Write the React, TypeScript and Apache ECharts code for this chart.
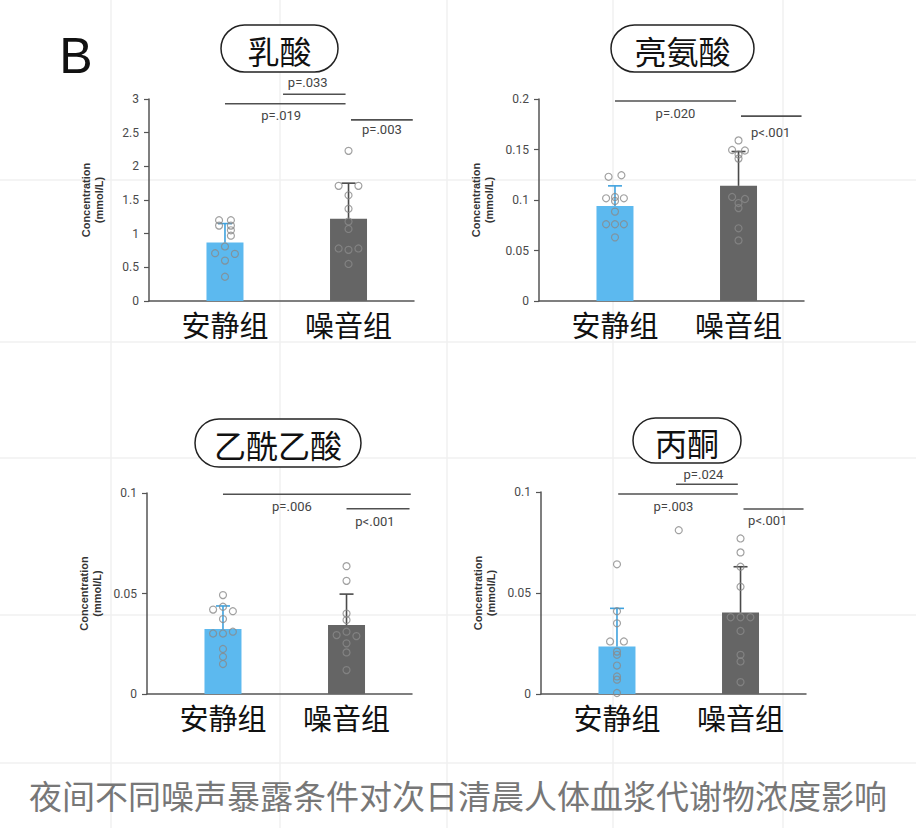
import React, { useEffect, useRef } from "react";
import * as echarts from "echarts";

// ---------- data ----------
const groups = ["安静组", "噪音组"];
const panelTitles = ["乳酸", "亮氨酸", "乙酰乙酸", "丙酮"];
const yName = "Concentration\n(mmol/L)";

const yMax = [3, 0.2, 0.1, 0.1];
const yStep = [0.5, 0.05, 0.05, 0.05];

// bar means [安静组, 噪音组]
const lactateMean = [0.87, 1.22];
const leucineMean = [0.094, 0.114];
const acetoacetateMean = [0.0323, 0.0343];
const acetoneMean = [0.0235, 0.0403];

// SD (upper error bar)
const lactateSd = [0.28, 0.53];
const leucineSd = [0.02, 0.034];
const acetoacetateSd = [0.0115, 0.0154];
const acetoneSd = [0.0189, 0.0227];

// individual points: [jitter column, value]
const lactateQuiet = [[-0.6, 1.2], [0.6, 1.2], [-0.6, 1.12], [0.6, 1.12], [0.6, 1.05], [0.6, 0.97], [0, 0.81], [-1, 0.71], [1, 0.7], [0, 0.6], [0, 0.36]];
const lactateNoise = [[0, 2.23], [-1, 1.71], [1, 1.71], [0, 1.57], [0, 1.37], [0, 1.18], [0, 1.07], [-1, 0.78], [0, 0.76], [1, 0.78], [0, 0.55]];
const leucineQuiet = [[-0.65, 0.123], [0.65, 0.1245], [-0.9, 0.1017], [0, 0.103], [0, 0.099], [0.9, 0.1017], [0, 0.0885], [-0.9, 0.076], [0, 0.076], [0.9, 0.076], [0, 0.063]];
const leucineNoise = [[0, 0.159], [-0.65, 0.1495], [0.65, 0.149], [0, 0.145], [0, 0.141], [-0.65, 0.103], [0.65, 0.101], [0, 0.097], [0, 0.092], [0, 0.072], [0, 0.06]];
const acetoacetateQuiet = [[0, 0.0492], [-1, 0.042], [0, 0.0434], [1, 0.0412], [0, 0.0373], [-1, 0.0301], [0, 0.0301], [1, 0.031], [0, 0.0224], [0, 0.0185], [0, 0.0149]];
const acetoacetateNoise = [[0, 0.0636], [0, 0.0563], [0, 0.04], [0, 0.0368], [-1, 0.0293], [0, 0.031], [1, 0.0288], [0, 0.0252], [0, 0.0207], [0, 0.0119]];
const acetoneQuiet = [[0, 0.0642], [0, 0.041], [0, 0.035], [-0.7, 0.026], [0.7, 0.026], [0, 0.021], [0, 0.0194], [0, 0.0141], [0, 0.0087], [0, 0.0071], [0, 0.0005]];
const acetoneNoise = [[0, 0.077], [0, 0.0701], [0, 0.063], [0, 0.0531], [-1, 0.038], [0, 0.038], [1, 0.038], [0, 0.0312], [0, 0.0194], [0, 0.0161], [0, 0.0059]];
const acetoneStray = [[0.5, 0.0811]];

// significance brackets: [x1, x2, y, labelX, labelY]
const lactateBrackets = [[0.47, 0.976, 3.07, 0.67, 3.24], [0, 0.976, 2.93, 0.455, 2.76], [1.02, 1.52, 2.69, 1.27, 2.55]];
const lactateP = ["p=.033", "p=.019", "p=.003"];
const leucineBrackets = [[0, 0.98, 0.198, 0.49, 0.1855], [1.02, 1.51, 0.183, 1.26, 0.167]];
const leucineP = ["p=.020", "p<.001"];
const acetoacetateBrackets = [[0, 1.52, 0.0994, 0.558, 0.0934], [1.0, 1.51, 0.0922, 1.23, 0.0856]];
const acetoacetateP = ["p=.006", "p<.001"];
const acetoneBrackets = [[0.478, 0.978, 0.1038, 0.7, 0.1087], [0.01, 0.978, 0.099, 0.457, 0.093], [1.024, 1.51, 0.0916, 1.22, 0.086]];
const acetoneP = ["p=.024", "p=.003", "p<.001"];

const caption = "夜间不同噪声暴露条件对次日清晨人体血浆代谢物浓度影响";

// ---------- styling / layout ----------
const BLUE = "#5cb9ef";
const BLUE_ERR = "#3fa2de";
const GRAY = "#656565";
const GRAY_ERR = "#4a4a4a";
const PT = "#8a8a8a";
const AXIS = "#555";
const CJK = "'Noto Sans CJK SC', sans-serif";
const JIT = 0.08;

// faint paper grid in the background
const BG_V = [111, 280, 447, 613, 783];
const BG_H = [180, 342, 458, 615, 763];

const panels = [
  { means: lactateMean, sds: lactateSd, pts: [lactateQuiet, lactateNoise], br: lactateBrackets, p: lactateP, extra: [] as number[][] },
  { means: leucineMean, sds: leucineSd, pts: [leucineQuiet, leucineNoise], br: leucineBrackets, p: leucineP, extra: [] as number[][] },
  { means: acetoacetateMean, sds: acetoacetateSd, pts: [acetoacetateQuiet, acetoacetateNoise], br: acetoacetateBrackets, p: acetoacetateP, extra: [] as number[][] },
  { means: acetoneMean, sds: acetoneSd, pts: [acetoneQuiet, acetoneNoise], br: acetoneBrackets, p: acetoneP, extra: acetoneStray },
];

const gridPos = [
  { left: 149, top: 99, height: 202 },
  { left: 539, top: 99, height: 202 },
  { left: 147, top: 493, height: 201 },
  { left: 541, top: 492, height: 202 },
];
const GRID_W = 265;
const X_MIN = -0.615;
const X_MAX = 1.53;

const titleBoxes = [
  { x: 221, y: 25, w: 117, h: 47 },
  { x: 611, y: 25, w: 143, h: 47 },
  { x: 195, y: 419, w: 166, h: 48 },
  { x: 633, y: 418, w: 108, h: 45 },
];

function buildOption() {
  const grid: any[] = [];
  const xAxis: any[] = [];
  const yAxis: any[] = [];
  const series: any[] = [];

  panels.forEach((pn, i) => {
    const g = gridPos[i];
    grid.push({ left: g.left, top: g.top, width: GRID_W, height: g.height });
    xAxis.push({
      type: "value",
      gridIndex: i,
      min: X_MIN,
      max: X_MAX,
      axisLine: { show: true, onZero: false, lineStyle: { color: AXIS, width: 1.5 } },
      axisTick: { show: false },
      splitLine: { show: false },
      axisLabel: {
        customValues: [0, 1],
        formatter: (v: number) => groups[Math.round(v)] ?? "",
        fontSize: 29,
        color: "#111",
        fontFamily: CJK,
        margin: 8,
      },
    });
    yAxis.push({
      type: "value",
      gridIndex: i,
      min: 0,
      max: yMax[i],
      interval: yStep[i],
      axisLine: { show: true, onZero: false, lineStyle: { color: AXIS, width: 1.5 } },
      axisTick: { show: true, length: 5, lineStyle: { color: AXIS, width: 1.2 } },
      splitLine: { show: false },
      axisLabel: { fontSize: 12, color: "#4a4a4a", fontFamily: "Roboto, sans-serif", margin: 10 },
      name: yName,
      nameLocation: "middle",
      nameGap: 44,
      nameTextStyle: { fontSize: 11, fontWeight: "bold", color: "#333", fontFamily: "'Liberation Sans', Arial, sans-serif", lineHeight: 13 },
    });

    series.push({
      type: "bar",
      xAxisIndex: i,
      yAxisIndex: i,
      barWidth: 37,
      data: pn.means.map((m, k) => ({ value: [k, m], itemStyle: { color: k === 0 ? BLUE : GRAY } })),
    });

    series.push({
      type: "custom",
      xAxisIndex: i,
      yAxisIndex: i,
      z: 3,
      data: pn.means.map((m, k) => [k, m, m + pn.sds[k]]),
      renderItem: (params: any, api: any) => {
        const k = api.value(0);
        const a = api.coord([k, api.value(1)]);
        const b = api.coord([k, api.value(2)]);
        const c = k === 0 ? BLUE_ERR : GRAY_ERR;
        return {
          type: "group",
          children: [
            { type: "line", shape: { x1: a[0], y1: a[1], x2: b[0], y2: b[1] }, style: { stroke: c, lineWidth: 1.6 } },
            { type: "line", shape: { x1: b[0] - 7, y1: b[1], x2: b[0] + 7, y2: b[1] }, style: { stroke: c, lineWidth: 1.6 } },
          ],
        };
      },
    });

    const pts: number[][] = [];
    pn.pts.forEach((arr, k) => arr.forEach((p) => pts.push([k + p[0] * JIT, p[1]])));
    pn.extra.forEach((p) => pts.push([p[0], p[1]]));
    series.push({
      type: "scatter",
      xAxisIndex: i,
      yAxisIndex: i,
      z: 4,
      symbol: "circle",
      symbolSize: 7,
      itemStyle: { color: "rgba(255,255,255,0)", borderColor: PT, borderWidth: 1.2 },
      data: pts,
    });

    series.push({
      type: "custom",
      xAxisIndex: i,
      yAxisIndex: i,
      z: 5,
      clip: false,
      data: pn.br,
      renderItem: (params: any, api: any) => {
        const a = api.coord([api.value(0), api.value(2)]);
        const b = api.coord([api.value(1), api.value(2)]);
        const l = api.coord([api.value(3), api.value(4)]);
        return {
          type: "group",
          children: [
            { type: "line", shape: { x1: a[0], y1: a[1], x2: b[0], y2: b[1] }, style: { stroke: "#505050", lineWidth: 1.6 } },
            {
              type: "text",
              x: l[0],
              y: l[1],
              style: { text: pn.p[params.dataIndex], fontSize: 13, fill: "#444", align: "center", verticalAlign: "middle", fontFamily: "Roboto, sans-serif" },
            },
          ],
        };
      },
    });
  });

  const graphic: any[] = [];
  BG_V.forEach((x) => graphic.push({ type: "line", z: -10, silent: true, shape: { x1: x, y1: 0, x2: x, y2: 828 }, style: { stroke: "#f0f0f0", lineWidth: 1.5 } }));
  BG_H.forEach((y) => graphic.push({ type: "line", z: -10, silent: true, shape: { x1: 0, y1: y, x2: 916, y2: y }, style: { stroke: "#f0f0f0", lineWidth: 1.5 } }));
  titleBoxes.forEach((t, i) => {
    graphic.push({
      type: "group",
      children: [
        { type: "rect", shape: { x: t.x, y: t.y, width: t.w, height: t.h, r: t.h / 2 }, style: { fill: "#fff", stroke: "#222", lineWidth: 1.5 } },
        {
          type: "text",
          x: t.x + t.w / 2,
          y: t.y + t.h / 2 + 1,
          style: { text: panelTitles[i], fontSize: 32, fill: "#111", align: "center", verticalAlign: "middle", fontFamily: CJK },
        },
      ],
    });
  });
  graphic.push({
    type: "text",
    x: 76,
    y: 56,
    style: { text: "B", fontSize: 50, fill: "#111", align: "center", verticalAlign: "middle", fontFamily: "'Liberation Sans', Arial, sans-serif" },
  });
  graphic.push({
    type: "text",
    x: 458,
    y: 795,
    style: { text: caption, fontSize: 33, fill: "#777", align: "center", verticalAlign: "middle", fontFamily: CJK },
  });

  return { animation: false, backgroundColor: "#fff", grid, xAxis, yAxis, series, graphic };
}

export default function App() {
  const ref = useRef<HTMLDivElement>(null);
  useEffect(() => {
    if (!ref.current) return;
    const chart = echarts.init(ref.current, null, { renderer: "svg" });
    chart.setOption(buildOption() as any);
    return () => chart.dispose();
  }, []);
  return <div ref={ref} style={{ position: "absolute", left: 0, top: 0, width: 916, height: 828 }} />;
}
